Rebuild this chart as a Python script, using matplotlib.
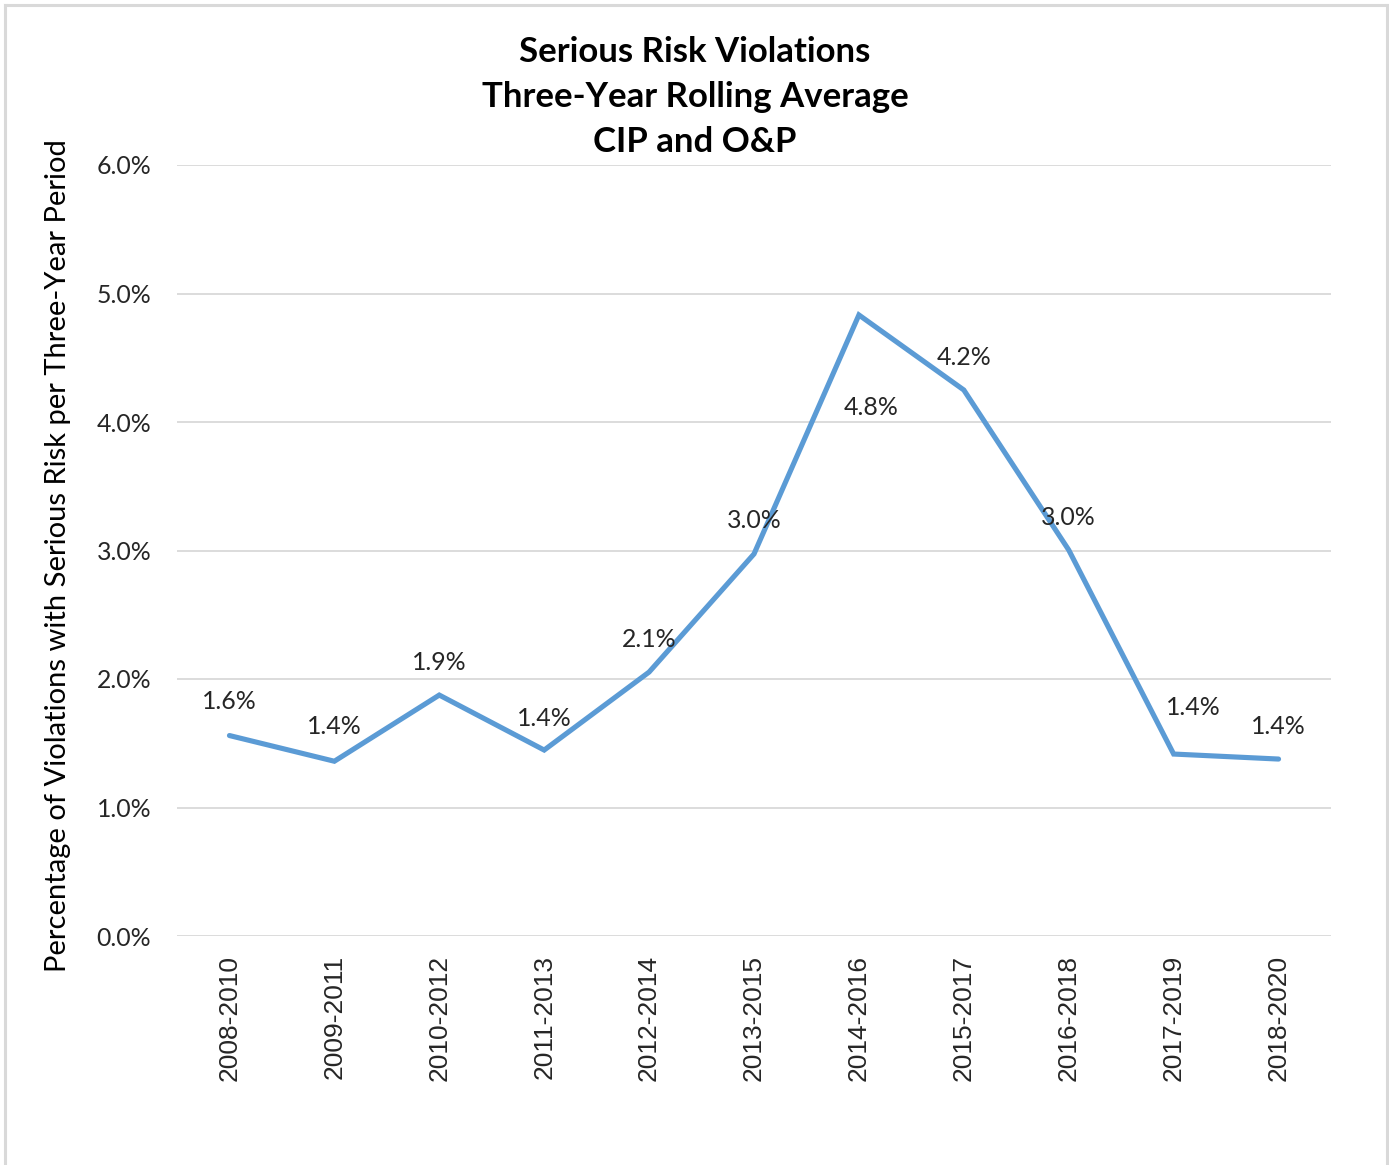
import matplotlib
matplotlib.use("Agg")
import matplotlib.pyplot as plt
from matplotlib.lines import Line2D
from matplotlib.ticker import FuncFormatter, MultipleLocator

# ---- data ----
periods = ["2008-2010", "2009-2011", "2010-2012", "2011-2013", "2012-2014",
           "2013-2015", "2014-2016", "2015-2017", "2016-2018", "2017-2019",
           "2018-2020"]
values = [1.56, 1.36, 1.875, 1.447, 2.054, 2.973, 4.833, 4.249, 3.004, 1.416, 1.377]
labels = ["1.6%", "1.4%", "1.9%", "1.4%", "2.1%", "3.0%", "4.8%", "4.2%",
          "3.0%", "1.4%", "1.4%"]
# label offsets in pixels (dx, dy) relative to the point
label_offsets = [(0, 34), (0, 35), (0, 33), (0, 32), (0, 33), (0, 33),
                 (12, -93), (0, 33), (0, 32), (20, 47), (0, 33)]

title = "Serious Risk Violations\nThree-Year Rolling Average\nCIP and O&P"
ylabel = "Percentage of Violations with Serious Risk per Three-Year Period"

W, H = 1389, 1165
fig = plt.figure(figsize=(W / 100, H / 100), dpi=100)
ax = fig.add_axes([177 / W, 1 - 936 / H, (1331 - 177) / W, (936 - 165) / H])

x = list(range(len(periods)))
ax.plot(x, values, color="#5B9BD5", lw=3.7, solid_capstyle="round",
        solid_joinstyle="miter", zorder=3)

lab_font = "Lato"
for xi, v, lab, (dx, dy) in zip(x, values, labels, label_offsets):
    ax.annotate(lab, (xi, v), xytext=(dx * 0.72, dy * 0.72),
                textcoords="offset points", ha="center", va="center",
                fontsize=17.9, family=lab_font, color="#262626", zorder=4)

ax.set_xlim(-0.5, len(periods) - 0.5)
ax.set_ylim(0, 6)
ax.yaxis.set_major_locator(MultipleLocator(1))
ax.yaxis.set_major_formatter(FuncFormatter(lambda v, p: f"{v:.1f}%"))
ax.set_xticks(x)
ax.set_xticklabels(periods, rotation=90, fontsize=19,
                   family="Liberation Sans", color="#262626")
for t in ax.get_yticklabels():
    t.set_fontsize(17.9)
    t.set_family(lab_font)
    t.set_color("#262626")
ax.tick_params(axis="both", length=0)
ax.tick_params(axis="y", pad=18.5)
ax.tick_params(axis="x", pad=13.5)
ax.grid(axis="y", color="#D9D9D9", lw=1.3)
ax.set_axisbelow(True)
for s in ax.spines.values():
    s.set_visible(False)

fig.text(58 / W, 1 - 556 / H, ylabel, rotation=90, ha="center", va="center",
         fontsize=21, family=lab_font, color="#000000")
fig.text(695 / W, 1 - 97 / H, title, ha="center", va="center",
         fontsize=25, family=lab_font, fontweight="bold",
         linespacing=1.5, color="#000000")

# figure border
bc = "#D9D9D9"
fig.add_artist(Line2D([4.5 / W, 4.5 / W], [0, 1 - 5 / H], color=bc, lw=2.2,
                      transform=fig.transFigure))
fig.add_artist(Line2D([4.5 / W, 1386.5 / W], [1 - 5 / H, 1 - 5 / H], color=bc,
                      lw=2.2, transform=fig.transFigure))
fig.add_artist(Line2D([1386.5 / W, 1386.5 / W], [0, 1 - 5 / H], color=bc,
                      lw=2.2, transform=fig.transFigure))

fig.savefig("out.png", dpi=100, facecolor="white")
